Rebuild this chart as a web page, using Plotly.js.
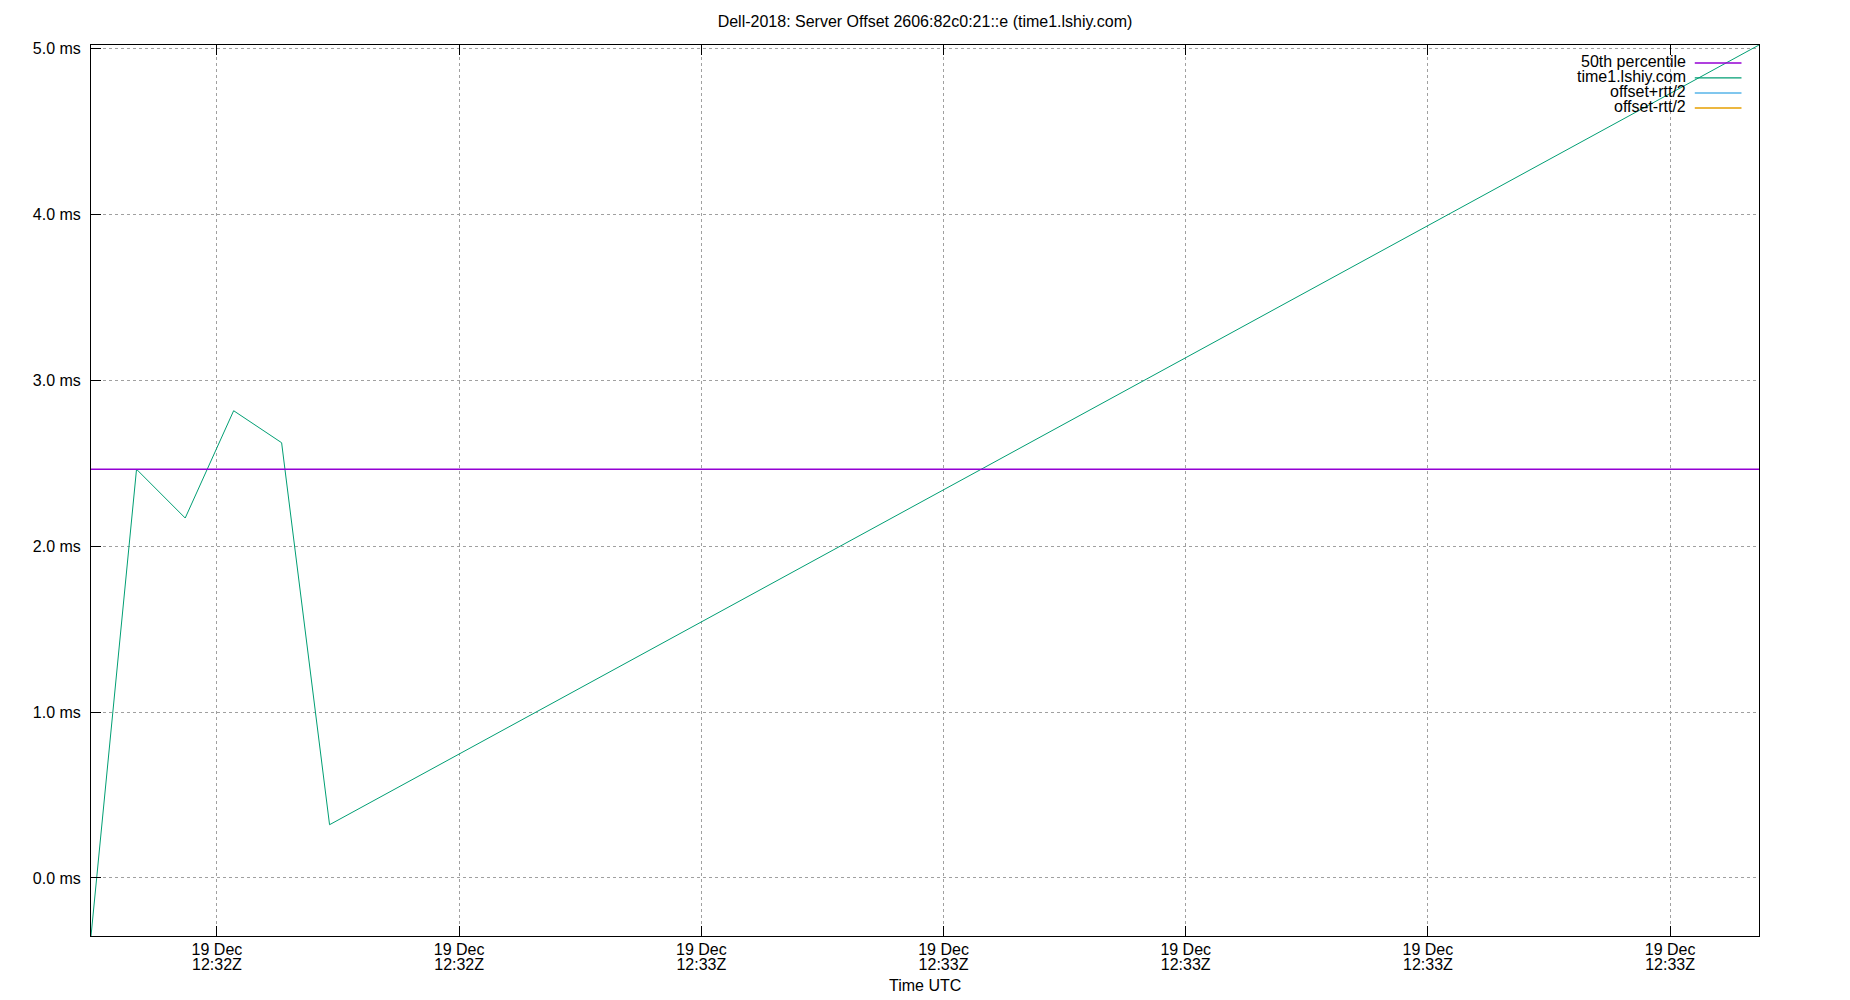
<!DOCTYPE html>
<html>
<head>
<meta charset="utf-8">
<script src="https://cdn.plot.ly/plotly-3.0.1.min.js"></script>
<style>html,body{margin:0;padding:0;background:#fff;}#chart{width:1850px;height:1000px;}</style>
</head>
<body>
<div id="chart"></div>
<script>
// ---- data ----
const times = [
  "2018-12-19 12:32:34.80",
  "2018-12-19 12:32:36.68",
  "2018-12-19 12:32:38.69",
  "2018-12-19 12:32:40.69",
  "2018-12-19 12:32:42.67",
  "2018-12-19 12:32:44.65",
  "2018-12-19 12:33:43.67"
];
const offsets = [-0.350, 2.464, 2.170, 2.817, 2.624, 0.321, 5.022];
const percentile50 = 2.464;
const seriesNames = ["50th percentile", "time1.lshiy.com", "offset+rtt/2", "offset-rtt/2"];
const seriesColors = ["#9400d3", "#009e73", "#56b4e9", "#e69f00"];
const titleText = "Dell-2018: Server Offset 2606:82c0:21::e (time1.lshiy.com)";
const xTitle = "Time UTC";
const yRange = [-0.350, 5.022];

const FONT = "Liberation Sans, Arial, sans-serif";
const FS = 16;

const xRange = [times[0], times[times.length - 1]];

const traces = [
  {
    x: [times[0], times[times.length - 1]],
    y: [percentile50, percentile50],
    mode: "lines", name: seriesNames[0],
    line: {color: seriesColors[0], width: 1.3},
    xaxis: "x2", yaxis: "y", hoverinfo: "skip"
  },
  {
    x: times, y: offsets, mode: "lines", name: seriesNames[1],
    line: {color: seriesColors[1], width: 1},
    xaxis: "x", yaxis: "y"
  },
  {x: [], y: [], mode: "lines", name: seriesNames[2], line: {color: seriesColors[2], width: 1}},
  {x: [], y: [], mode: "lines", name: seriesNames[3], line: {color: seriesColors[3], width: 1}}
];

// legend (gnuplot style: text right, sample to the right)
const legRowsY = [0.9798, 0.9630, 0.9461, 0.9293];
const annotations = [];
const shapes = [];
seriesNames.forEach((n, i) => {
  annotations.push({
    xref: "paper", yref: "paper", x: 0.9573, y: legRowsY[i] + 0.0012,
    xanchor: "right", yanchor: "middle", text: n, showarrow: false,
    font: {family: FONT, size: FS, color: "#000"}
  });
  shapes.push({
    type: "line", xref: "paper", yref: "paper",
    x0: 0.9615, x1: 0.9895, y0: legRowsY[i], y1: legRowsY[i],
    line: {color: seriesColors[i], width: 1.3}
  });
});
annotations.push({
  xref: "paper", yref: "paper", x: 0.5, y: -0.0558,
  xanchor: "center", yanchor: "middle", text: xTitle, showarrow: false,
  font: {family: FONT, size: FS, color: "#000"}
});

const commonX = {
  type: "date",
  range: xRange,
  tickmode: "linear",
  tick0: "2018-12-19 12:32:40",
  dtick: 10000,
  showline: false,
  zeroline: false,
  tickfont: {family: FONT, size: FS, color: "#000"}
};

const layout = {
  width: 1850, height: 1000,
  paper_bgcolor: "#fff", plot_bgcolor: "#fff",
  margin: {l: 91, r: 91, t: 45, b: 64, pad: 0},
  showlegend: false,
  title: {
    text: titleText, x: 0.5, xref: "paper", xanchor: "center",
    y: 1 - 21.2 / 1000, yref: "container", yanchor: "middle",
    font: {family: FONT, size: FS, color: "#000"}
  },
  xaxis: Object.assign({}, commonX, {
    tickformat: "%d %b",
    ticks: "inside", ticklen: 10, tickcolor: "#000", tickwidth: 1,
    showline: true, linecolor: "#000", linewidth: 1, mirror: "ticks",
    showgrid: true, gridcolor: "#a0a0a0", griddash: "dot", gridwidth: 1,
    ticklabelstandoff: -1
  }),
  xaxis2: Object.assign({}, commonX, {
    overlaying: "x", anchor: "y", side: "bottom",
    tickformat: "%H:%MZ",
    ticks: "", showgrid: false,
    ticklabelstandoff: 17
  }),
  yaxis: {
    range: yRange,
    tickmode: "linear", tick0: 0, dtick: 1,
    tickformat: ".1f", ticksuffix: " ms",
    ticks: "inside", ticklen: 10, tickcolor: "#000", tickwidth: 1,
    showline: true, linecolor: "#000", linewidth: 1, mirror: true,
    showgrid: true, gridcolor: "#a0a0a0", griddash: "dot", gridwidth: 1,
    zeroline: false,
    ticklabelstandoff: 6,
    tickfont: {family: FONT, size: FS, color: "#000"}
  },
  annotations: annotations,
  shapes: shapes
};

Plotly.newPlot("chart", traces, layout, {displayModeBar: false, staticPlot: true});
</script>
</body>
</html>
